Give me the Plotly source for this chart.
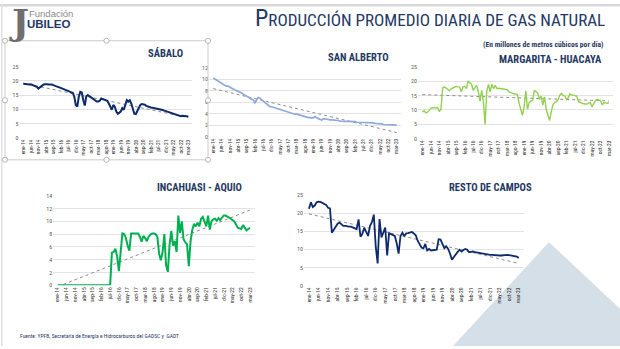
import numpy as np
import plotly.graph_objects as go

W, H = 620, 349

MONTHS = list(range(111))  # ene-14 .. mar-23
TICK_POS = [0, 5, 10, 15, 20, 25, 30, 35, 40, 45, 50, 55, 60, 65, 70, 75, 80, 85, 90, 95, 100, 105, 110]
TICK_LABELS = ["ene-14", "jun-14", "nov-14", "abr-15", "sep-15", "feb-16", "jul-16", "dic-16",
               "may-17", "oct-17", "mar-18", "ago-18", "ene-19", "jun-19", "nov-19", "abr-20",
               "sep-20", "feb-21", "jul-21", "dic-21", "may-22", "oct-22", "mar-23"]

SABALO = [19.0, 18.9, 18.9, 18.8, 18.7, 18.8, 18.6, 18.5, 18.3, 17.9, 17.3, 17.8,
          18.2, 18.5, 18.8, 18.9, 18.8, 18.7, 18.8, 18.7, 18.5, 18.2, 17.9, 17.9,
          17.7, 17.5, 17.4, 17.2, 16.9, 16.6, 16.5, 16.2, 15.9, 15.8, 14.4, 11.5,
          10.9, 14.4, 16.1, 15.9, 13.2, 11.3, 14.6, 15.0, 14.6, 14.2, 13.8, 13.2,
          13.0, 12.7, 12.7, 13.0, 13.8, 13.6, 13.6, 13.4, 13.0, 12.0, 10.9, 9.8,
          11.5, 10.9, 9.2, 8.4, 8.8, 9.2, 10.4, 9.8, 11.5, 13.2, 12.7, 13.2,
          12.0, 10.0, 8.4, 8.3, 9.5, 10.8, 11.5, 11.8, 11.8, 11.6, 11.2, 10.9,
          10.8, 10.6, 10.5, 10.4, 10.4, 10.2, 10.1, 10.0, 9.8, 9.7, 9.5, 9.3,
          9.1, 8.9, 8.8, 8.6, 8.4, 8.3, 8.1, 7.9, 7.6, 7.5, 7.7, 7.7,
          7.6, 7.5, 7.3]

SAN_ALBERTO = [10.2, 10.0, 9.8, 9.7, 9.5, 9.3, 9.1, 8.9, 8.8, 8.8, 8.6, 8.4,
               8.2, 8.1, 8.0, 7.9, 7.7, 7.6, 7.4, 7.2, 7.0, 6.9, 6.7, 6.5,
               6.4, 5.9, 6.4, 6.8, 6.7, 6.5, 6.2, 5.9, 5.7, 5.4, 5.2, 5.2,
               5.1, 5.1, 5.0, 4.9, 4.8, 4.7, 4.6, 4.5, 4.4, 4.3, 4.2, 4.1,
               4.0, 3.9, 3.9, 3.8, 3.7, 3.6, 3.6, 3.5, 3.4, 3.3, 3.3, 3.2,
               3.3, 3.5, 3.3, 3.1, 3.0, 2.9, 3.1, 3.1, 3.0, 3.0, 2.9, 2.9,
               2.9, 2.8, 2.8, 2.8, 2.7, 2.7, 2.7, 2.6, 2.6, 2.6, 2.6, 2.6,
               2.6, 2.6, 2.5, 2.5, 2.5, 2.5, 2.4, 2.4, 2.4, 2.4, 2.4, 2.4,
               2.4, 2.3, 2.3, 2.3, 2.2, 2.2, 2.1, 2.1, 2.1, 2.1, 2.1, 2.1,
               2.0, 2.0, 2.0]

MARGARITA = [9.2, 9.7, 8.9, 9.2, 9.8, 10.5, 10.7, 10.8, 10.6, 10.8, 9.4, 10.2,
             17.6, 18.0, 17.6, 16.9, 16.6, 17.3, 17.7, 17.9, 18.2, 18.0, 17.9, 16.3,
             18.0, 18.2, 17.4, 19.9, 19.3, 18.9, 16.8, 17.8, 18.5, 16.3, 13.0, 16.8,
             12.8, 4.9, 16.5, 18.8, 16.3, 18.9, 17.4, 18.5, 17.4, 17.5, 17.4, 17.3,
             17.3, 17.2, 17.0, 16.2, 15.9, 15.8, 15.6, 15.4, 15.3, 12.3, 10.0, 8.1,
             11.1, 16.6, 10.2, 12.6, 13.0, 13.4, 16.8, 16.2, 15.8, 13.6, 14.8, 11.7,
             14.5, 10.2, 8.0, 6.3, 9.4, 11.8, 12.6, 12.8, 13.5, 15.1, 15.7, 15.0,
             14.8, 13.6, 14.2, 15.5, 15.2, 15.1, 15.0, 14.8, 12.8, 12.5, 12.3, 12.1,
             12.0, 12.0, 12.3, 12.5, 11.1, 12.3, 13.2, 13.6, 13.5, 13.2, 11.7, 12.5,
             12.4, 12.3, 12.5]

INCAHUASI = [0.0, 0.0, 0.0, 0.0, 0.0, 0.0, 0.0, 0.0, 0.0, 0.0, 0.0, 0.0,
             0.0, 0.0, 0.0, 0.0, 0.0, 0.0, 0.0, 0.0, 0.0, 0.0, 0.0, 0.0,
             0.0, 0.0, 0.0, 0.0, 0.0, 0.0, 0.0,
             5.1, 5.2, 5.7, 4.5, 2.2, 5.2, 8.1, 8.0, 7.4, 6.2,
             5.4, 8.1, 8.1, 8.1, 8.1, 8.1, 7.6, 6.8, 7.7, 7.4,
             6.9, 7.6, 7.9, 8.1, 8.1, 8.0, 7.6, 4.9, 3.9, 5.2,
             8.0, 3.1, 2.1, 6.4, 8.5, 6.2, 6.9, 5.2, 10.9, 8.2,
             10.0, 7.2, 6.7, 6.4, 3.0, 6.9, 8.7, 9.6, 9.2, 9.8,
             9.2, 10.4, 10.7, 10.0, 9.2, 10.9, 8.7, 10.0, 10.3, 10.4,
             10.1, 10.5, 10.2, 10.6, 10.9, 10.9, 10.8, 10.6, 10.4, 10.2,
             10.0, 9.5, 9.0, 8.9, 8.8, 9.4, 9.0, 8.6, 8.8, 9.0]

RESTO = [21.2, 23.0, 21.7, 22.1, 23.0, 23.2, 23.1, 22.9, 22.6, 22.3, 21.5, 21.3,
         14.6, 15.5, 16.3, 17.1, 17.4, 16.8, 16.5, 16.5, 16.3, 16.3, 16.3, 16.1,
         15.8, 15.6, 18.3, 13.5, 14.3, 16.0, 14.8, 13.7, 16.5, 17.5, 19.6, 10.8,
         6.1, 18.4, 13.3, 14.8, 16.0, 8.3, 14.5, 14.2, 14.0, 13.7, 11.7, 8.8,
         13.7, 14.6, 13.7, 14.4, 14.5, 14.6, 14.8, 14.4, 13.9, 12.4, 11.2, 10.5,
         10.3, 11.5, 9.7, 10.1, 9.7, 9.8, 9.9, 9.9, 12.8, 12.7, 11.5, 10.3,
         10.8, 10.1, 8.8, 7.1, 7.9, 8.8, 9.3, 9.9, 9.4, 9.8, 10.1, 9.9,
         9.2, 9.3, 9.4, 9.2, 9.1, 9.0, 8.9, 8.9, 8.8, 8.7, 8.6, 8.5,
         8.5, 8.4, 8.4, 8.3, 8.3, 8.3, 8.4, 8.5, 8.5, 8.4, 8.3, 8.3,
         8.1, 8.0, 7.6]

NAVY = "#1F3864"
NARROW = "Roboto Condensed, DejaVu Sans Condensed, sans-serif"

# panel specs: name, values, color, width, x px of first/last point, y px of 0 / top, y max, dtick
PANELS = [
    ("SÁBALO", SABALO, "#0D2B6B", 2.0, 23.3, 188.3, 136.3, 64.0, 25, 5),
    ("SAN ALBERTO", SAN_ALBERTO, "#8EA9DB", 1.7, 213.3, 396.7, 135.3, 65.0, 12, 2),
    ("MARGARITA - HUACAYA", MARGARITA, "#92D050", 1.4, 422.3, 609.0, 137.3, 64.0, 25, 5),
    ("INCAHUASI - AQUIO", INCAHUASI, "#00B050", 2.0, 57.7, 250.0, 287.0, 195.7, 14, 2),
    ("RESTO DE CAMPOS", RESTO, "#0D2B6B", 1.8, 309.0, 518.7, 287.3, 195.0, 25, 5),
]
TITLE_POS = [(165, 51, "center"), (359, 54.5, "center"), (604, 56.5, "right"),
             (199, 187.5, "center"), (447, 187.5, "left")]

fig = go.Figure()
layout = dict(width=W, height=H, margin=dict(l=0, r=0, t=0, b=0), autosize=False,
              paper_bgcolor="white", plot_bgcolor="rgba(0,0,0,0)", showlegend=False)

PAD = 2.6
annotations = []
for i, (name, vals, col, lw, x0, x1, y0, ytop, ymax, dt) in enumerate(PANELS):
    k = "" if i == 0 else str(i + 1)
    ppm = (x1 - x0) / 110.0
    dl = (x0 - PAD * ppm) / W
    dr = (x1 + PAD * ppm) / W
    layout["xaxis" + k] = dict(domain=[dl, dr], range=[-PAD, 110 + PAD], anchor="y" + k,
                               tickmode="array", tickvals=TICK_POS, ticktext=TICK_LABELS,
                               tickangle=-90, tickfont=dict(size=5.5, color="#1F1F1F", family=NARROW),
                               showgrid=False, zeroline=False, showline=False, ticks="",
                               fixedrange=True)
    layout["yaxis" + k] = dict(domain=[1 - y0 / H, 1 - ytop / H], range=[0, ymax], anchor="x" + k,
                               dtick=dt, tick0=0, showgrid=True, gridcolor="#E3E3E3", gridwidth=0.8,
                               zeroline=False, showline=False, ticks="",
                               tickfont=dict(size=6, color="#595959", family=NARROW))
    xs = np.array(MONTHS, dtype=float)
    ys = np.array(vals, dtype=float)
    a, b = np.polyfit(xs, ys, 1)
    fig.add_trace(go.Scatter(x=[xs[0], xs[-1]], y=[a * xs[0] + b, a * xs[-1] + b], mode="lines",
                             line=dict(color="#8C8C8C", width=1, dash="dot"),
                             xaxis="x" + k, yaxis="y" + k, hoverinfo="skip"))
    fig.add_trace(go.Scatter(x=MONTHS, y=vals, mode="lines", line=dict(color=col, width=lw),
                             xaxis="x" + k, yaxis="y" + k))
    tx, ty, anc = TITLE_POS[i]
    annotations.append(dict(text="<b>" + name + "</b>", x=tx / W, y=1 - ty / H, xref="paper", yref="paper",
                            xanchor=anc, yanchor="middle", showarrow=False,
                            font=dict(size=10.5, color=NAVY, family=NARROW)))

# main title and subtitle
annotations.append(dict(text='<span style="font-size:24px">P</span>RODUCCIÓN PROMEDIO DIARIA DE GAS NATURAL',
                        x=607 / W, y=1 - 31 / H, xref="paper", yref="paper", xanchor="right", yanchor="bottom",
                        showarrow=False, font=dict(size=17.1, color=NAVY, family=NARROW)))
annotations.append(dict(text="<b>(En millones de metros cúbicos por día)</b>", x=606 / W, y=1 - 41 / H,
                        xref="paper", yref="paper", xanchor="right", yanchor="middle", showarrow=False,
                        font=dict(size=7.6, color=NAVY, family=NARROW)))
# source
annotations.append(dict(text="Fuente: YPFB, Secretaría de Energía e Hidrocarburos del GADSC y  GADT",
                        x=18 / W, y=1 - 339 / H, xref="paper", yref="paper", xanchor="left", yanchor="middle",
                        showarrow=False, font=dict(size=5.6, color=NAVY, family=NARROW)))
# logo
annotations.append(dict(text="<b>J</b>", x=7 / W, y=1 - 18 / H, xref="paper", yref="paper", xanchor="left",
                        yanchor="middle", showarrow=False, font=dict(size=36, color="#6F6F6F", family="DejaVu Serif")))
annotations.append(dict(text="Fundación", x=27 / W, y=1 - 9.5 / H, xref="paper", yref="paper", xanchor="left",
                        yanchor="middle", showarrow=False, font=dict(size=9.5, color="#8A8A8A", family="Liberation Sans")))
annotations.append(dict(text="<b>UBILEO</b>", x=25 / W, y=1 - 20 / H, xref="paper", yref="paper", xanchor="left",
                        yanchor="middle", showarrow=False, font=dict(size=11.5, color=NAVY, family="Liberation Sans")))
layout["annotations"] = annotations


def P(x, y):
    return f"{x / W:.5f},{1 - y / H:.5f}"


shapes = []
# background triangle
shapes.append(dict(type="path", xref="paper", yref="paper", layer="below", line=dict(width=0),
                   fillcolor="#D5DFE8",
                   path=f"M {P(453, 349)} L {P(549, 243)} L {P(620, 311)} L {P(620, 349)} Z"))
# top band and left border
shapes.append(dict(type="rect", xref="paper", yref="paper", layer="below", line=dict(width=0),
                   fillcolor="#D9D9D9", x0=0, x1=1, y0=1 - 2.5 / H, y1=1))
shapes.append(dict(type="rect", xref="paper", yref="paper", layer="below", line=dict(width=0),
                   fillcolor="#E1E1E1", x0=1 / W, x1=2.5 / W, y0=0, y1=1))
# selection frame around first chart
sx0, sx1, sy0, sy1 = 5, 208, 37.5, 159
shapes.append(dict(type="rect", xref="paper", yref="paper", layer="above",
                   line=dict(color="#BFBFBF", width=0.8), fillcolor="rgba(0,0,0,0)",
                   x0=sx0 / W, x1=sx1 / W, y0=1 - sy1 / H, y1=1 - sy0 / H))
mx, my = (sx0 + sx1) / 2, (sy0 + sy1) / 2
for (hx, hy) in [(sx0, sy0), (mx, sy0), (sx1, sy0), (sx0, my), (sx1, my), (sx0, sy1), (mx, sy1), (sx1, sy1)]:
    r = 2.6
    shapes.append(dict(type="circle", xref="paper", yref="paper", layer="above",
                       line=dict(color="#A6A6A6", width=0.8), fillcolor="white",
                       x0=(hx - r) / W, x1=(hx + r) / W, y0=1 - (hy + r) / H, y1=1 - (hy - r) / H))
layout["shapes"] = shapes

fig.update_layout(**layout)
fig.write_html("out.html", config={"displayModeBar": False})
